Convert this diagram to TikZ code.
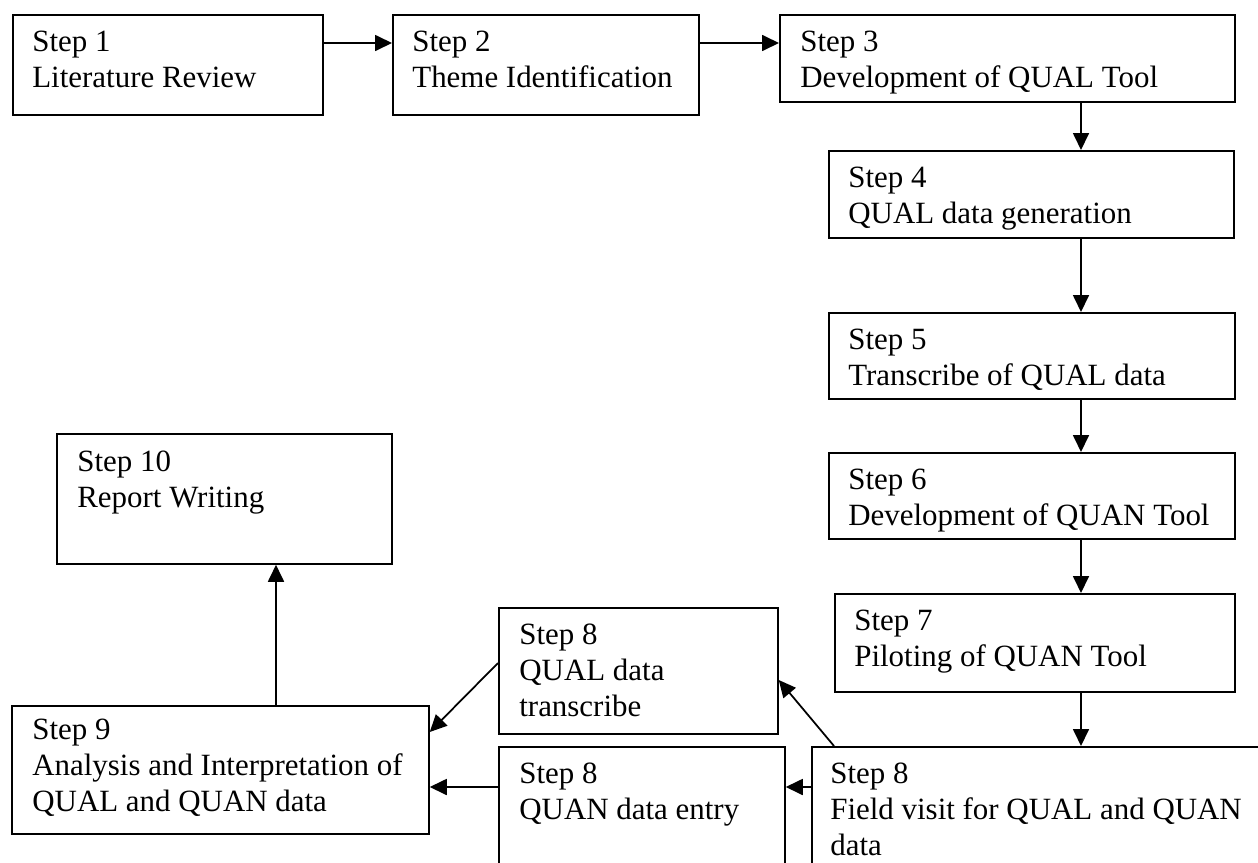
\documentclass[tikz,border=0pt]{standalone}
\usepackage{fontspec}
\setmainfont{Liberation Serif}
\usepackage{tikz}
\usetikzlibrary{arrows.meta, calc, positioning}

\tikzset{
  stepbox/.style={draw, line width=1pt, anchor=north west, inner sep=0pt},
  steptext/.style={anchor=north west, align=left, inner sep=0pt,
    font=\fontsize{17.6}{20.5}\selectfont},
  flow/.style={-{Triangle[length=0.34cm,width=0.32cm]}, line width=1pt}
}

\begin{document}
\begin{tikzpicture}
        \useasboundingbox (0,0) rectangle (25.16,-17.26);
        \clip (0,0) rectangle (25.16,-17.26);

        % boxes
        \node[stepbox, minimum width=6.2cm, minimum height=2cm] (s1) at (0.24,-0.28) {};
        \node[stepbox, minimum width=6.12cm, minimum height=2cm] (s2) at (7.84,-0.28) {};
        \node[stepbox, minimum width=9.1cm, minimum height=1.74cm] (s3) at (15.58,-0.28) {};
        \node[stepbox, minimum width=8.1cm, minimum height=1.74cm] (s4) at (16.56,-3.0) {};
        \node[stepbox, minimum width=8.12cm, minimum height=1.72cm] (s5) at (16.56,-6.24) {};
        \node[stepbox, minimum width=8.12cm, minimum height=1.72cm] (s6) at (16.56,-9.04) {};
        \node[stepbox, minimum width=8cm, minimum height=1.96cm] (s7) at (16.68,-11.86) {};
        \node[stepbox, minimum width=9.5cm, minimum height=3cm] (s8f) at (16.22,-14.92) {};
        \node[stepbox, minimum width=5.72cm, minimum height=3cm] (s8n) at (9.96,-14.92) {};
        \node[stepbox, minimum width=5.58cm, minimum height=2.52cm] (s8l) at (9.96,-12.14) {};
        \node[stepbox, minimum width=8.34cm, minimum height=2.56cm] (s9) at (0.22,-14.1) {};
        \node[stepbox, minimum width=6.7cm, minimum height=2.6cm] (s10) at (1.12,-8.66) {};

        % texts
        \node[steptext] (s1t) at ([shift={(0.4,-0.33)}]s1.north west) {Step 1\\Literature Review};
        \node[steptext] (s2t) at ([shift={(0.4,-0.33)}]s2.north west) {Step 2\\Theme Identification};
        \node[steptext] (s3t) at ([shift={(0.42,-0.33)}]s3.north west) {Step 3\\Development of QUAL Tool};
        \node[steptext] (s4t) at ([shift={(0.4,-0.33)}]s4.north west) {Step 4\\QUAL data generation};
        \node[steptext] (s5t) at ([shift={(0.4,-0.33)}]s5.north west) {Step 5\\Transcribe of QUAL data};
        \node[steptext] (s6t) at ([shift={(0.4,-0.33)}]s6.north west) {Step 6\\Development of QUAN Tool};
        \node[steptext] (s7t) at ([shift={(0.4,-0.33)}]s7.north west) {Step 7\\Piloting of QUAN Tool};
        \node[steptext] (s8ft) at ([shift={(0.38,-0.33)}]s8f.north west) {Step 8\\Field visit for QUAL and QUAN\\data};
        \node[steptext] (s8nt) at ([shift={(0.42,-0.33)}]s8n.north west) {Step 8\\QUAN data entry};
        \node[steptext] (s8lt) at ([shift={(0.42,-0.33)}]s8l.north west) {Step 8\\QUAL data\\transcribe};
        \node[steptext] (s9t) at ([shift={(0.42,-0.28)}]s9.north west) {Step 9\\Analysis and Interpretation of\\QUAL and QUAN data};
        \node[steptext] (s10t) at ([shift={(0.42,-0.36)}]s10.north west) {Step 10\\Report Writing};

        % arrows
        \coordinate (spine) at (21.62,0);
        \draw[flow] ([yshift=-0.58cm]s1.north east) -- ([yshift=-0.58cm]s2.north west);
        \draw[flow] ([yshift=-0.58cm]s2.north east) -- ([yshift=-0.58cm]s3.north west);
        \foreach \a/\b in {s3/s4, s4/s5, s5/s6, s6/s7, s7/s8f}
          \draw[flow] (\a.south -| spine) -- (\b.north -| spine);
        \draw[flow] ([yshift=-0.82cm]s8f.north west) -- ([yshift=-0.82cm]s8n.north east);
        \draw[flow] ([xshift=0.46cm]s8f.north west) -- ([yshift=-1.46cm]s8l.north east);
        \draw[flow] ([yshift=-0.82cm]s8n.north west) -- ([yshift=-1.64cm]s9.north east);
        \draw[flow] ([yshift=-1.12cm]s8l.north west) -- ([yshift=-0.54cm]s9.north east);
        \draw[flow] ([xshift=5.3cm]s9.north west) -- ([xshift=4.4cm]s10.south west);
\end{tikzpicture}
\end{document}
